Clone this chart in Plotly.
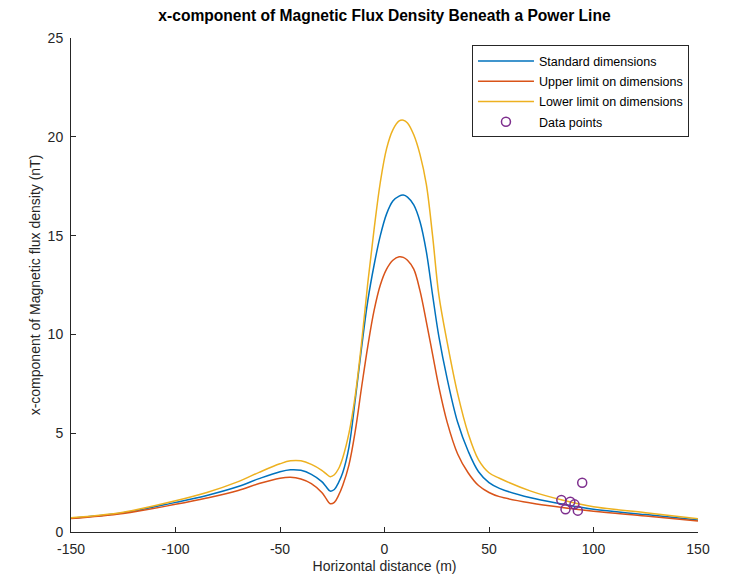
import plotly.graph_objects as go

# Horizontal distance (m) sample positions
x_dist = [-150, -125, -100, -85, -70, -60, -50, -45, -40, -35, -30, -28, -26, -24, -22,
          -20, -17, -14, -11, -8, -5, -2, 1, 4, 7, 9, 11, 14, 17, 20, 23, 26, 30, 35,
          40, 45, 50, 55, 70, 85, 100, 125, 150]

# x-component of magnetic flux density (nT)
standard_dims = [0.70, 0.97, 1.50, 1.85, 2.30, 2.70, 3.05, 3.15, 3.12, 2.92, 2.55, 2.30, 2.07,
                 2.15, 2.50, 3.00, 4.30, 6.70, 9.30, 11.70, 13.50, 15.00, 16.10, 16.75, 17.00,
                 17.05, 16.95, 16.55, 15.70, 14.20, 12.00, 9.90, 7.75, 5.55, 4.10, 3.05, 2.50,
                 2.21, 1.73, 1.42, 1.15, 0.88, 0.61]
upper_limit = [0.68, 0.94, 1.40, 1.72, 2.10, 2.45, 2.72, 2.77, 2.68, 2.45, 2.00, 1.70, 1.43,
               1.50, 1.85, 2.35, 3.40, 5.10, 7.30, 9.40, 11.20, 12.50, 13.30, 13.75, 13.93,
               13.90, 13.75, 13.30, 12.20, 10.65, 9.00, 7.35, 5.55, 3.95, 3.00, 2.35, 2.00,
               1.79, 1.47, 1.24, 1.05, 0.81, 0.56]
lower_limit = [0.72, 1.00, 1.58, 2.00, 2.55, 3.02, 3.45, 3.60, 3.60, 3.42, 3.12, 2.95, 2.80,
               2.90, 3.20, 3.75, 5.00, 6.90, 9.55, 12.60, 15.30, 17.70, 19.40, 20.35, 20.80,
               20.84, 20.70, 20.10, 19.10, 17.60, 15.00, 12.00, 9.60, 7.00, 5.00, 3.65, 3.00,
               2.72, 2.07, 1.62, 1.28, 0.98, 0.67]

# Measured data points
data_x = [94.6, 84.6, 88.9, 90.9, 86.6, 92.5]
data_y = [2.49, 1.62, 1.53, 1.40, 1.15, 1.08]

x_ticks = [-150, -100, -50, 0, 50, 100, 150]
x_tick_text = ["-150", "-100", "-50", "0", "50", "100", "150"]
y_ticks = [0, 5, 10, 15, 20, 25]

FONT = "Liberation Sans, Arial, Helvetica, sans-serif"
AX = "#262626"

fig = go.Figure()
series = [
    ("Standard dimensions", standard_dims, "#0072BD"),
    ("Upper limit on dimensions", upper_limit, "#D95319"),
    ("Lower limit on dimensions", lower_limit, "#EDB120"),
]
for i, (name, vals, col) in enumerate(series):
    fig.add_trace(go.Scatter(
        x=x_dist, y=vals, name=name, mode="lines", legendgroup=f"g{i}",
        line=dict(color=col, width=1.5, shape="spline", smoothing=1.0),
    ))
fig.add_trace(go.Scatter(
    x=data_x, y=data_y, name="Data points", mode="markers", legendgroup="g3",
    marker=dict(symbol="circle-open", size=9, color="#7E2F8E", line=dict(width=1.5, color="#7E2F8E")),
))

# The page places the figure 8 px in from the top-left corner of the window
W, H = 727, 567
fig.update_layout(
    width=W, height=H,
    margin=dict(l=63, r=37, t=30, b=43, autoexpand=False),
    paper_bgcolor="white", plot_bgcolor="white",
    font=dict(family=FONT, size=14, color=AX),
    title=dict(text="<b>x-component of Magnetic Flux Density Beneath a Power Line</b>",
               x=0.5, xref="paper", xanchor="center", y=1 - 8 / H, yref="container",
               yanchor="middle", font=dict(size=15.6, color="black", family=FONT)),
    legend=dict(x=0.6395, y=0.985, xanchor="left", yanchor="top",
                bordercolor=AX, borderwidth=1, bgcolor="white",
                font=dict(size=12.5, color="black", family=FONT),
                traceorder="grouped", tracegroupgap=1, itemwidth=56),
    showlegend=True,
)
fig.update_xaxes(
    range=[-150, 150], tickvals=x_ticks, ticktext=x_tick_text, ticks="inside", ticklen=5,
    tickcolor=AX, showline=True, linecolor=AX, linewidth=1, mirror=False, showgrid=False,
    zeroline=False, automargin=False,
    tickfont=dict(size=14, color=AX), ticklabelstandoff=4,
    title=dict(text="Horizontal distance (m)", font=dict(size=14, color=AX), standoff=5),
)
fig.update_yaxes(
    range=[0, 25], tickvals=y_ticks, ticks="inside", ticklen=5, tickcolor=AX,
    showline=True, linecolor=AX, linewidth=1, mirror=False, showgrid=False, zeroline=False,
    automargin=False,
    tickfont=dict(size=14, color=AX), ticklabelstandoff=4,
    title=dict(text="x-component of Magnetic flux density (nT)", font=dict(size=14, color=AX), standoff=3),
)

fig.write_html("out.html")
